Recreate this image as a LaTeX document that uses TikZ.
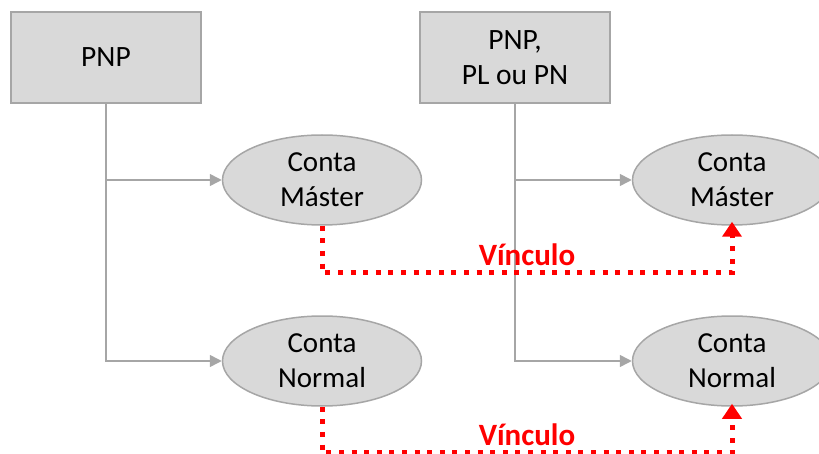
\documentclass[tikz,border=0pt]{standalone}
\usepackage{fontspec}
\setmainfont{Carlito}
\usetikzlibrary{shapes.geometric,arrows.meta}

\tikzset{
  perfil/.style={draw=black!35,line width=1.5pt,fill=black!15,minimum width=190pt,minimum height=91pt,
    align=center,font=\fontsize{29.5}{35}\selectfont},
  conta/.style={ellipse,draw=black!35,line width=1.5pt,fill=black!15,minimum width=199pt,minimum height=90pt,
    inner sep=0pt,align=center,font=\fontsize{29}{35}\selectfont},
  liga/.style={draw=black!35,line width=1.6pt,-{Triangle[length=12pt,width=12pt]}},
  vinculo/.style={draw=red,line width=5pt,dash pattern=on 5pt off 7.6pt,
    -{Triangle[length=15pt,width=19pt,fill=red]}},
  rotulo/.style={text=red,font=\fontsize{31}{34}\selectfont\bfseries}
}

\begin{document}
\begin{tikzpicture}[x=1pt,y=-1pt]
\useasboundingbox (0,0) rectangle (819,454);
\clip (0,0) rectangle (819,454);

% perfis
\node[perfil] (pnp) at (106,57.5) {PNP};
\node[perfil] (pl) at (515,57.5) {PNP,\\PL ou PN};

% contas
\node[conta] (mestreA) at (322,180) {Conta\\Máster};
\node[conta] (normalA) at (322,361) {Conta\\Normal};
\node[conta] (mestreB) at (732,180) {Conta\\Máster};
\node[conta] (normalB) at (732,361) {Conta\\Normal};

\draw[liga] (pnp.south) |- (mestreA.west);
\draw[liga] (pnp.south) |- (normalA.west);
\draw[liga] (pl.south) |- (mestreB.west);
\draw[liga] (pl.south) |- (normalB.west);

% vinculos
\draw[vinculo] (mestreA.south) -- ++(0,47) -| ([yshift=4pt]mestreB.south)
  node[rotulo,pos=0.25,above=1pt] {Vínculo};
\draw[vinculo] (normalA.south) -- ++(0,46) -| ([yshift=3pt]normalB.south)
  node[rotulo,pos=0.25,above=1pt] {Vínculo};
\end{tikzpicture}
\end{document}
